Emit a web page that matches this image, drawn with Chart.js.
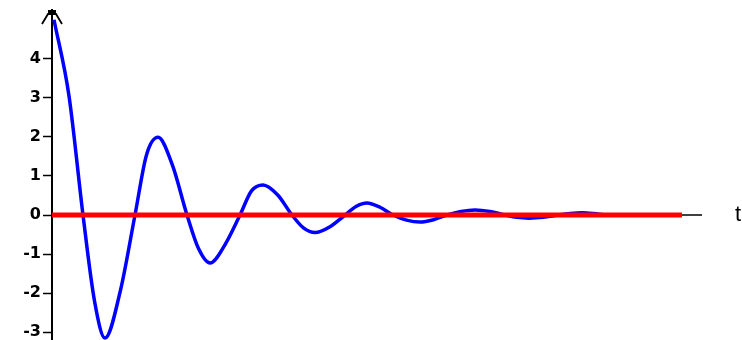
<!DOCTYPE html>
<html>
<head>
<meta charset="utf-8">
<script src="https://cdn.jsdelivr.net/npm/chart.js@4"></script>
<style>
  html, body { margin: 0; padding: 0; background: #fff; }
  #wrap { width: 742px; height: 340px; }
</style>
</head>
<body>
<div id="wrap"><canvas id="chart"></canvas></div>
<script>
// Damped oscillation (peaks, zero crossings, mid points)
const tValues = [0.2, 1.7, 3.1, 4.25, 5.3, 6.8, 8.3, 9.45, 10.6, 12.05, 13.5, 14.65, 15.8, 17.3, 18.8, 19.95, 21.1, 22.55, 24.0, 25.15, 26.3, 27.8, 29.3, 30.4, 31.5, 32.8, 34.1, 35.45, 36.8, 38.15, 39.5, 40.9, 42.3, 43.8, 45.3, 46.5, 47.7, 49.1, 50.6, 51.8, 53.0, 54.2, 55.5, 57.0];
const yValues = [5.0, 3.05, 0, -2.2, -3.15, -1.98, 0, 1.54, 1.99, 1.27, 0, -0.86, -1.23, -0.76, 0, 0.62, 0.77, 0.52, 0, -0.33, -0.45, -0.3, 0, 0.22, 0.31, 0.2, 0, -0.13, -0.18, -0.12, 0, 0.09, 0.13, 0.09, 0, -0.06, -0.08, -0.06, 0, 0.04, 0.06, 0.04, 0, 0];

// zero reference line
const zeroLineT = [0, 63];
const zeroLineY = [0, 0];

const yTicks = [-3, -2, -1, 0, 1, 2, 3, 4];
const axisLabel = 't';

const curve = tValues.map((t, i) => ({ x: t, y: yValues[i] }));
const zeroLine = zeroLineT.map((t, i) => ({ x: t, y: zeroLineY[i] }));

// x axis line, arrow on y axis and the "t" label
const axesDecor = {
    id: 'axesDecor',
    beforeDatasetsDraw(chart) {
        const ctx = chart.ctx;
        const y0 = chart.scales.y.getPixelForValue(0);
        ctx.save();
        ctx.strokeStyle = '#000';
        ctx.lineWidth = 1.5;
        ctx.beginPath();
        ctx.moveTo(chart.chartArea.left, y0);
        ctx.lineTo(chart.chartArea.right, y0);
        ctx.stroke();
        ctx.restore();
    },
    afterDraw(chart) {
        const ctx = chart.ctx;
        const x0 = chart.scales.x.getPixelForValue(0);
        const top = chart.chartArea.top;
        const y0 = chart.scales.y.getPixelForValue(0);
        ctx.save();
        ctx.strokeStyle = '#000';
        ctx.lineWidth = 1.8;
        ctx.beginPath();
        ctx.moveTo(x0 - 10, top + 14);
        ctx.lineTo(x0 - 4, top + 4);
        ctx.lineTo(x0 + 4, top + 4);
        ctx.lineTo(x0 + 10, top + 14);
        ctx.stroke();
        ctx.fillStyle = '#000';
        ctx.fillRect(x0 - 4, top, 8, 5);
        ctx.font = '22px "Liberation Sans", Arial, sans-serif';
        ctx.textAlign = 'left';
        ctx.textBaseline = 'middle';
        ctx.fillText(axisLabel, 735, y0);
        ctx.restore();
    }
};

new Chart(document.getElementById('chart'), {
    type: 'line',
    data: {
        datasets: [{
            data: zeroLine,
            borderColor: '#ff0000',
            borderWidth: 5,
            pointRadius: 0,
            tension: 0
        }, {
            data: curve,
            borderColor: '#0000ff',
            borderWidth: 3.5,
            pointRadius: 0,
            cubicInterpolationMode: 'monotone'
        }]
    },
    options: {
        responsive: true,
        maintainAspectRatio: false,
        animation: false,
        layout: { padding: { top: 10, right: 40, bottom: 0, left: 0 } },
        scales: {
            x: {
                type: 'linear',
                min: 0,
                max: 65,
                display: false
            },
            y: {
                min: -3.2,
                max: 5.25,
                afterFit(scale) {
                    scale.width = 52;
                    scale.paddingTop = 0;
                    scale.paddingBottom = 0;
                },
                afterBuildTicks(scale) {
                    scale.ticks = yTicks.map(v => ({ value: v }));
                },
                border: { display: true, color: '#000', width: 2 },
                grid: {
                    drawOnChartArea: false,
                    drawTicks: true,
                    tickLength: 9,
                    tickColor: '#000',
                    tickWidth: 1.5
                },
                ticks: {
                    color: '#000',
                    padding: 2,
                    font: { family: '"DejaVu Sans", sans-serif', size: 16, weight: 'bold' },
                    callback: v => String(v)
                }
            }
        },
        plugins: {
            legend: { display: false },
            tooltip: { enabled: false }
        }
    },
    plugins: [axesDecor]
});
</script>
</body>
</html>
